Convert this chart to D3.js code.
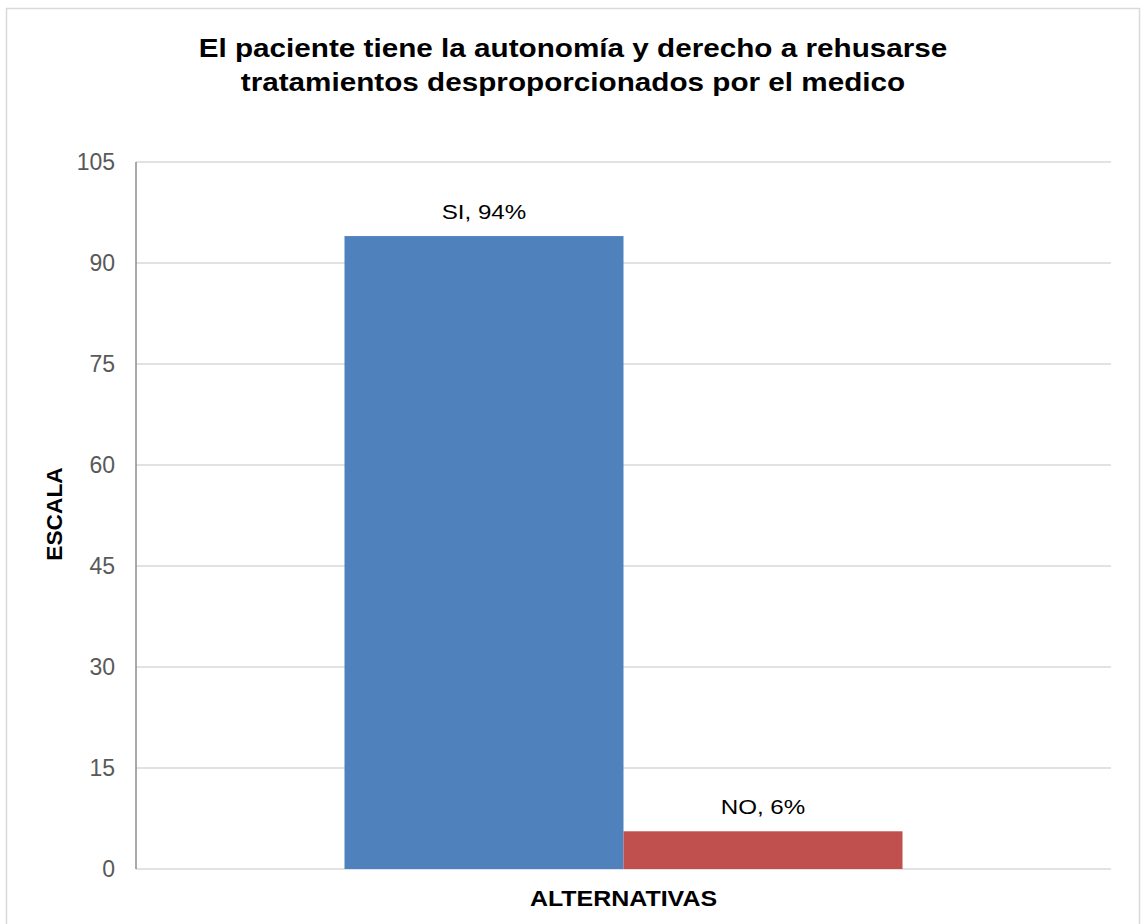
<!DOCTYPE html>
<html>
<head>
<meta charset="utf-8">
<script src="https://cdn.jsdelivr.net/npm/d3@7"></script>
<style>
  html, body { margin: 0; padding: 0; background: #ffffff; }
  svg { display: block; font-family: "Liberation Sans", Arial, sans-serif; }
</style>
</head>
<body>
<svg id="chart" width="1141" height="924"></svg>
<script>
// ---- data ----
const titleLines = ["El paciente tiene la autonomía y derecho a rehusarse", "tratamientos desproporcionados por el medico"];
const categories = ["ALTERNATIVAS"];
const seriesNames = ["SI", "NO"];
const seriesValues = [94, 5.6];
const seriesLabels = ["SI, 94%", "NO, 6%"];
const seriesColors = ["#4f81bd", "#c0504d"];
const yTicks = [0, 15, 30, 45, 60, 75, 90, 105];
const yAxisTitle = "ESCALA";

// ---- layout ----
const svg = d3.select("#chart");
const plot = { left: 136, right: 1111, top: 162, bottom: 869 };
const sx = 1.12; // horizontal text stretch seen in the reference

// outer frame
svg.append("rect")
  .attr("x", 6.5).attr("y", 8.5).attr("width", 1133).attr("height", 940)
  .attr("fill", "#ffffff").attr("stroke", "#d9d9d9").attr("stroke-width", 1.5);

// title
const title = svg.append("g").attr("transform", `translate(573,0) scale(${sx},1)`)
  .append("text")
  .attr("text-anchor", "middle")
  .attr("font-weight", "bold").attr("font-size", 26.5).attr("fill", "#000");
titleLines.forEach((t, i) => {
  title.append("tspan").attr("x", 0).attr("y", 57 + i * 34).text(t);
});

const y = d3.scaleLinear().domain([0, 105]).range([plot.bottom, plot.top]);
const x0 = d3.scaleBand().domain(categories).range([plot.left, plot.right]).padding(0.272);
const x1 = d3.scaleBand().domain(seriesNames).range([0, x0.bandwidth()]).padding(0);

// gridlines
svg.append("g").selectAll("line").data(yTicks).join("line")
  .attr("x1", plot.left).attr("x2", plot.right)
  .attr("y1", d => y(d)).attr("y2", d => y(d))
  .attr("stroke", "#d9d9d9").attr("stroke-width", 1.5);

// y tick labels via axis
const yAxis = svg.append("g")
  .attr("transform", `translate(${plot.left},0)`)
  .call(d3.axisLeft(y).tickValues(yTicks).tickSize(0).tickPadding(21));
yAxis.select(".domain").remove();
yAxis.selectAll("text")
  .attr("font-family", "Liberation Sans, Arial, sans-serif")
  .attr("font-size", 23).attr("fill", "#595959");

// bars
const barData = seriesNames.map((s, i) => ({ cat: categories[0], s, v: seriesValues[i], label: seriesLabels[i], color: seriesColors[i] }));
const g = svg.append("g");
g.selectAll("rect").data(barData).join("rect")
  .attr("x", d => x0(d.cat) + x1(d.s))
  .attr("width", x1.bandwidth())
  .attr("y", d => y(d.v))
  .attr("height", d => y(0) - y(d.v))
  .attr("fill", d => d.color);

// data labels
g.selectAll("g.lbl").data(barData).join("g")
  .attr("class", "lbl")
  .attr("transform", d => `translate(${x0(d.cat) + x1(d.s) + x1.bandwidth() / 2},${y(d.v) - 17}) scale(1.15,1)`)
  .append("text")
  .attr("text-anchor", "middle")
  .attr("font-size", 21).attr("fill", "#000")
  .text(d => d.label);

// left axis line
svg.append("line")
  .attr("x1", plot.left).attr("x2", plot.left)
  .attr("y1", plot.top).attr("y2", plot.bottom)
  .attr("stroke", "#8c8c8c").attr("stroke-width", 1.5);

// axis titles
svg.append("g")
  .attr("transform", `translate(${(plot.left + plot.right) / 2},906) scale(${sx},1)`)
  .append("text")
  .attr("text-anchor", "middle").attr("font-weight", "bold")
  .attr("font-size", 22.3).attr("fill", "#000")
  .text(categories[0]);

svg.append("text")
  .attr("transform", "translate(62,514) rotate(-90)")
  .attr("text-anchor", "middle").attr("font-weight", "bold")
  .attr("font-size", 22.7).attr("fill", "#000")
  .text(yAxisTitle);
</script>
</body>
</html>
